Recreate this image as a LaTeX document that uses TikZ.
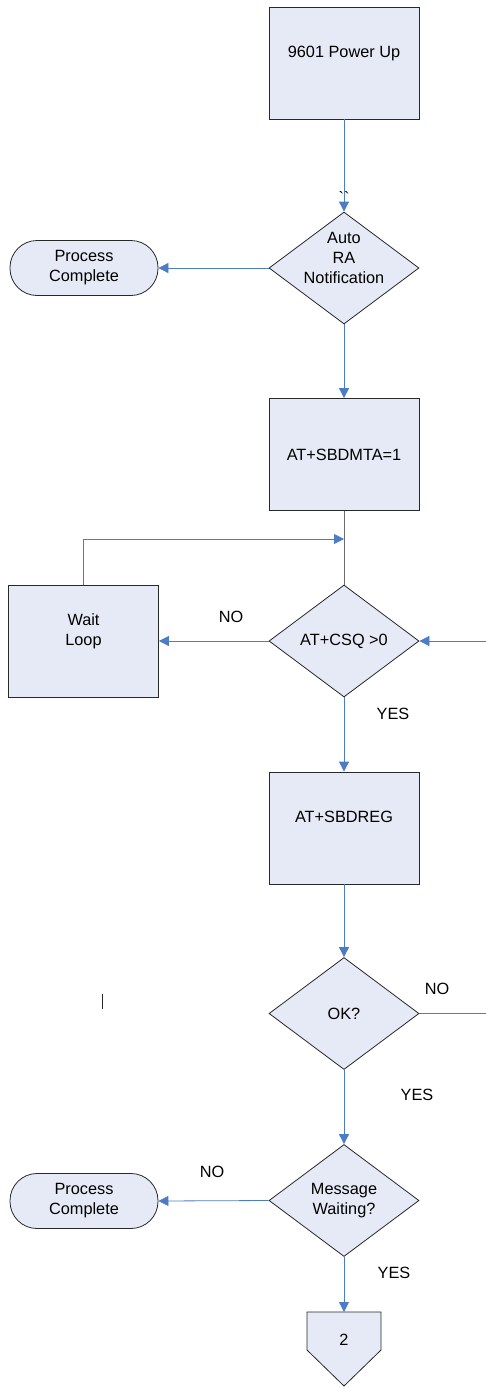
\documentclass[tikz,border=0pt]{standalone}
\usepackage{fontspec}
\setmainfont{Liberation Sans}
\newfontfamily\rawfont{Liberation Sans}[Ligatures=ResetAll]
\usetikzlibrary{shapes.geometric,arrows.meta}
\definecolor{fillc}{RGB}{230,234,246}
\definecolor{linec}{RGB}{76,124,196}
\definecolor{grayl}{RGB}{110,110,110}
\definecolor{edgec}{RGB}{40,40,40}
\begin{document}
\begin{tikzpicture}[x=1pt,y=-1pt,
 every node/.style={font=\fontsize{16.3}{20}\selectfont},
 procbox/.style={rectangle,draw=edgec,fill=fillc,line width=0.8pt,minimum width=150pt,minimum height=112pt,inner sep=0pt,align=center},
 decis/.style={diamond,draw=edgec,fill=fillc,line width=0.8pt,minimum width=150pt,minimum height=112pt,inner sep=0pt,align=center},
 term/.style={rectangle,draw=edgec,fill=fillc,line width=0.8pt,rounded corners=27pt,minimum width=148pt,minimum height=55pt,inner sep=0pt,align=center},
 txt/.style={align=center,inner sep=0pt},
 flow/.style={draw=linec,line width=0.8pt,-{Triangle[length=10pt,width=10pt]}},
 plain/.style={draw=linec,line width=0.8pt},
]
\useasboundingbox (0,0) rectangle (486,1387);

% shapes
\node[procbox] (b1) at (344,63) {};
\node[txt] (b1t) at (344,53) {9601 Power Up};
\node[decis] (d1) at (344,268) {};
\node[txt] (d1t) at (344,258) {Auto\\RA\\Notification};
\node[term] (t1) at (84,268) {Process\\Complete};
\node[procbox] (b2) at (344,454.5) {AT+SBDMTA=1};
\node[procbox] (w) at (83.5,641) {};
\node[txt] (wt) at (83.5,631) {Wait\\Loop};
\node[decis] (d2) at (344,641) {AT+CSQ >0};
\node[procbox] (b3) at (344,828) {};
\node[txt] (b3t) at (344,817) {AT+SBDREG};
\node[decis] (d4) at (344,1013.5) {OK?};
\node[decis] (d5) at (344,1200.5) {Message\\Waiting?};
\node[term] (t2) at (84,1201) {Process\\Complete};
\filldraw[draw=edgec,fill=fillc,line width=0.8pt] (307,1312) -- (381,1312) -- (381,1350) -- (344,1386) -- (307,1350) -- cycle;
\coordinate (off) at (344,1312);
\node[txt] (offt) at (344,1340) {2};

% stray marks
\node[txt,anchor=base] (marks) at (344,203) {\rawfont\symbol{96}\symbol{96}};
\draw[edgec,line width=0.8pt] (102,994) -- (102,1009);

% labels
\node[txt] (no1) at (231,617) {NO};
\node[txt] (yes1) at (393,714) {YES};
\node[txt] (no2) at (437,989) {NO};
\node[txt] (yes2) at (417,1095) {YES};
\node[txt] (no3) at (212,1172) {NO};
\node[txt] (yes3) at (394,1273) {YES};

% connectors
\draw[flow] (b1.south) -- (d1.north);
\draw[flow] (d1.west) -- (t1.east);
\draw[flow] (d1.south) -- (b2.north);
\draw[draw=grayl,line width=1pt] (b2.south) -- (d2.north);
\coordinate (j1) at (344,539);
\draw[flow] (w.north) |- (j1);
\draw[flow] (d2.west) -- (w.east);
\coordinate (e1) at (486,641);
\draw[flow] (e1) -- (d2.east);
\draw[flow] (d2.south) -- (b3.north);
\draw[flow] (b3.south) -- (d4.north);
\coordinate (e2) at (486,1013.5);
\draw[plain] (d4.east) -- (e2);
\draw[flow] (d4.south) -- (d5.north);
\draw[flow] (d5.west) -- (t2.east);
\draw[flow] (d5.south) -- (off);
\end{tikzpicture}
\end{document}
